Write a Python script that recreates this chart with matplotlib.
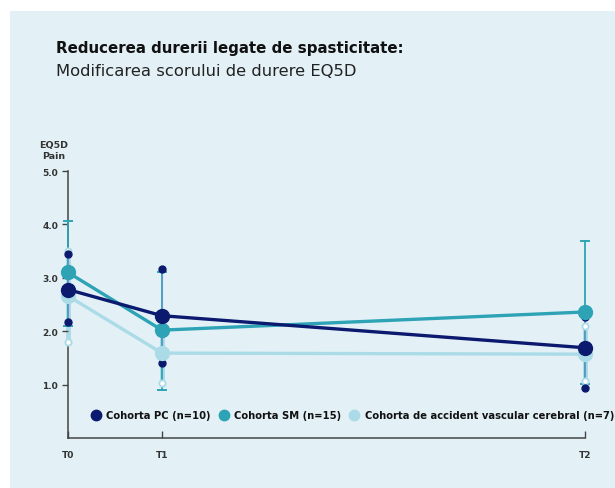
import matplotlib.pyplot as plt
from matplotlib.lines import Line2D

# data
times = [0, 1, 5.5]
tick_labels = ['T0', 'T1', 'T2']

pc_mean = [2.78, 2.29, 1.69]
pc_hi = [3.44, 3.16, 2.26]
pc_lo = [2.17, 1.40, 0.93]

sm_mean = [3.10, 2.02, 2.36]
sm_hi = [4.07, 3.11, 3.69]
sm_lo = [2.10, 0.89, 1.01]

avc_mean = [2.66, 1.59, 1.57]
avc_hi = [3.51, 2.09, 2.09]
avc_lo = [1.79, 1.03, 1.06]

labels = ['Cohorta PC (n=10)', 'Cohorta SM (n=15)',
          'Cohorta de accident vascular cerebral (n=7)']

navy = '#0b1a6e'
teal = '#2ea3b6'
light = '#aadbe6'
bg = '#e3f1f7'

fig = plt.figure(figsize=(6.15, 4.89), dpi=100)
fig.patch.set_facecolor('white')
fig.patches.append(plt.Rectangle((10 / 615, 0), 1, 1 - 12 / 489, transform=fig.transFigure,
                                 facecolor=bg, edgecolor='none', zorder=-10))

ax = fig.add_axes([68 / 615, 50 / 489, 517 / 615, 267 / 489])
ax.set_facecolor('none')
ax.set_zorder(5)

# error ranges
for i, t in enumerate(times):
    ax.plot([t, t], [avc_lo[i], avc_hi[i]], color=light, lw=3.5, zorder=1,
            solid_capstyle='butt', clip_on=False)
    ax.plot([t, t], [sm_lo[i], sm_hi[i]], color=teal, lw=1.3, zorder=2, clip_on=False)
    ax.plot([t - 0.04, t + 0.04], [sm_hi[i]] * 2, color=teal, lw=1.4, zorder=2, clip_on=False)
    ax.plot([t - 0.04, t + 0.04], [sm_lo[i]] * 2, color=teal, lw=1.4, zorder=2, clip_on=False)
    ax.plot([t, t], [pc_lo[i], pc_hi[i]], color='#6f95c8', lw=0.8, zorder=2, clip_on=False)

ax.plot(times, avc_hi, 'o', mfc='white', mec=light, mew=1.3, ms=4.5, ls='none', zorder=3, clip_on=False)
ax.plot(times, avc_lo, 'o', mfc='white', mec=light, mew=1.3, ms=4.5, ls='none', zorder=3, clip_on=False)
ax.plot(times, pc_hi, 'o', color=navy, ms=5, ls='none', zorder=3, clip_on=False)
ax.plot(times, pc_lo, 'o', color=navy, ms=5, ls='none', zorder=3, clip_on=False)

ax.plot(times, avc_mean, '-o', color=light, lw=2.4, ms=10, zorder=4, clip_on=False)
ax.plot(times, sm_mean, '-o', color=teal, lw=2.4, ms=10, zorder=5, clip_on=False)
ax.plot(times, pc_mean, '-o', color=navy, lw=2.4, ms=10, zorder=6, clip_on=False)

ax.set_xlim(0, 5.5)
ax.set_ylim(0, 5)
ax.set_yticks([1, 2, 3, 4, 5])
ax.set_yticklabels(['1.0', '2.0', '3.0', '4.0', '5.0'])
ax.set_xticks(times)
ax.set_xticklabels(tick_labels)

for s in ['top', 'right']:
    ax.spines[s].set_visible(False)
for s in ['left', 'bottom']:
    ax.spines[s].set_color('#444444')
    ax.spines[s].set_linewidth(1.1)
    ax.spines[s].set_zorder(0)
ax.tick_params(axis='y', direction='out', length=4, width=1, color='#444444',
               labelsize=6.5, labelcolor='#333333', pad=3)
ax.tick_params(axis='x', direction='in', length=5, width=1, color='#444444',
               labelsize=6.5, labelcolor='#333333', pad=9)
for lab in ax.get_xticklabels() + ax.get_yticklabels():
    lab.set_fontweight('bold')

fig.text(54 / 615, 1 - 151 / 489, 'EQ5D\nPain', ha='center', va='center',
         fontsize=6.8, fontweight='bold', color='#333333', linespacing=1.2)

fig.text(56 / 615, 1 - 48 / 489, 'Reducerea durerii legate de spasticitate:',
         fontsize=10.8, fontweight='bold', color='#111111', va='center')
fig.text(56 / 615, 1 - 72 / 489, 'Modificarea scorului de durere EQ5D',
         fontsize=11.8, color='#222222', va='center')

handles = [Line2D([], [], marker='o', ls='none', color=c, ms=7.5) for c in [navy, teal, light]]
leg = ax.legend(handles, labels, loc='center left', bbox_to_anchor=(0.044, 0.086), ncol=3,
                frameon=False, handletextpad=0.55, columnspacing=0.8, borderpad=0,
                borderaxespad=0, handlelength=1.0, prop={'size': 7.2, 'weight': 'bold'})
for txt in leg.get_texts():
    txt.set_color('#111111')

fig.savefig('out.png', dpi=100, facecolor=fig.get_facecolor())
